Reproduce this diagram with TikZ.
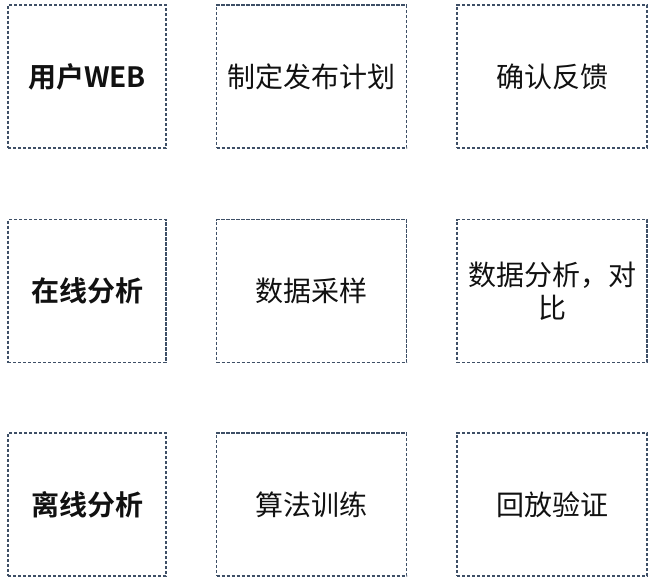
\documentclass[tikz,border=0pt]{standalone}
\usepackage{fontspec}
\newfontfamily\cjk{Noto Sans CJK SC}[BoldFont={Noto Sans CJK SC Bold}]
\definecolor{boxline}{HTML}{3E4F66}
\definecolor{txt}{HTML}{111111}
\begin{document}
\begin{tikzpicture}[x=1pt,y=-1pt,
  cell/.style={draw=boxline,line width=1.7pt,dash pattern=on 3.2pt off 1.8pt,
    minimum height=143pt,inner sep=0pt,align=center,text=txt,
    font=\cjk\fontsize{28}{33}\selectfont},
  narrow/.style={cell,minimum width=158pt},
  wide/.style={cell,minimum width=190pt},
  head/.style={narrow,font=\cjk\bfseries\fontsize{28}{33}\selectfont}]
\fill[white] (0,0) rectangle (658,586);
\useasboundingbox (0,0) rectangle (658,586);
\node[head] (a1) at (87,76.5) {用户WEB};
\node[wide] (b1) at (311.5,76.5) {制定发布计划};
\node[wide] (c1) at (552,76.5) {确认反馈};
\node[head] (a2) at (87,291) {在线分析};
\node[wide] (b2) at (311.5,291) {数据采样};
\node[wide] (c2) at (552,291) {数据分析，对\\比};
\node[head] (a3) at (87,504.5) {离线分析};
\node[wide] (b3) at (311.5,504.5) {算法训练};
\node[wide] (c3) at (552,504.5) {回放验证};
\end{tikzpicture}
\end{document}
